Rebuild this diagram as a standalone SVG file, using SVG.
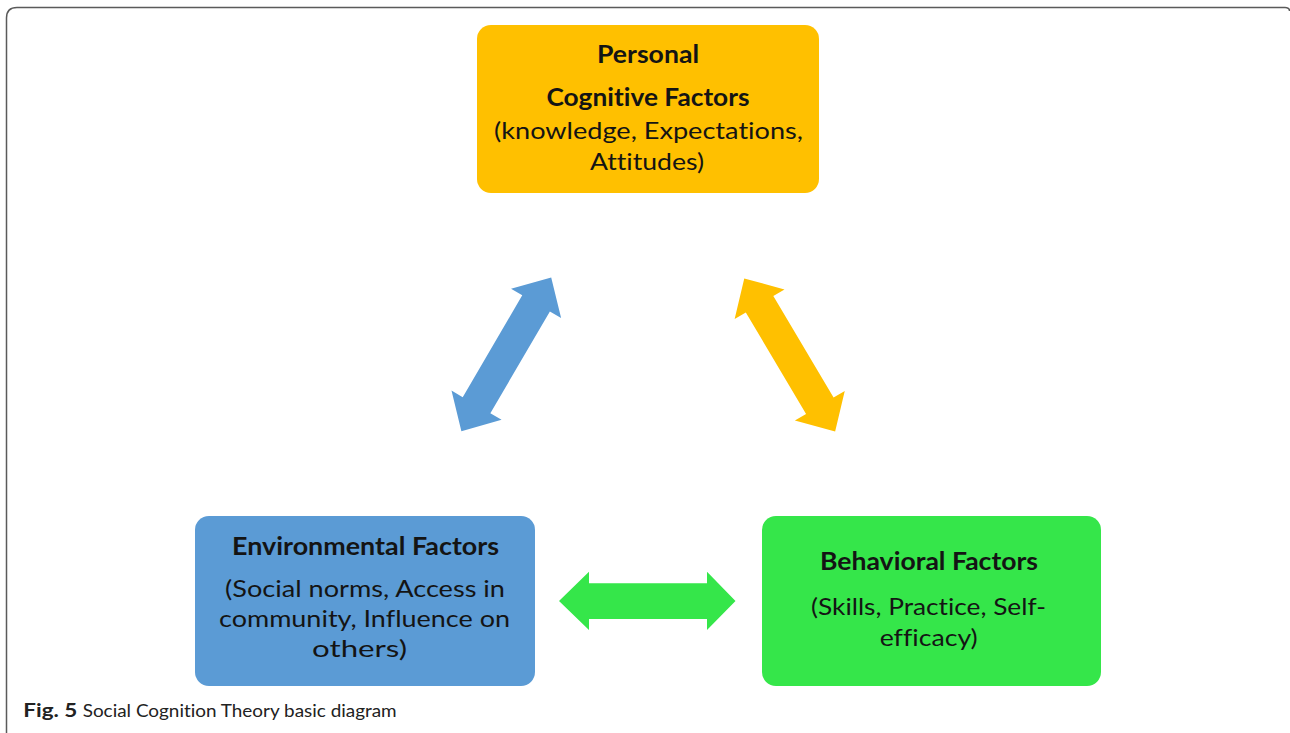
<svg xmlns="http://www.w3.org/2000/svg" width="1290" height="733" viewBox="0 0 1290 733">
<style>
.box-text{font-family:Lato,"Liberation Sans",sans-serif;font-size:24px;fill:#141414;text-anchor:middle;font-variant-ligatures:none}
.b{font-weight:bold}
.cap{font-family:Lato,"Liberation Sans",sans-serif;font-size:18px;fill:#222;font-variant-ligatures:none}
</style>
<defs>
<path id="darrow" d="M -89,0 L -59,-29 L -59,-16 L 59,-16 L 59,-29 L 89,0 L 59,29 L 59,16 L -59,16 L -59,29 Z"/>
</defs>
<rect x="0" y="0" width="1290" height="733" fill="#ffffff"/>
<path d="M6.5,733 V18 Q6.5,7.5 17,7.5 H1285 Q1289.5,7.5 1289.5,11" fill="none" stroke="#5a5a5a" stroke-width="1.5"/>
<g id="connectors">
<use href="#darrow" fill="#5B9BD5" transform="translate(506.3,354.3) rotate(-59.7)"/>
<use href="#darrow" fill="#FFC000" transform="translate(789.7,355) rotate(59.3)"/>
<path fill="#35E64A" d="M559,601 L589,571.7 L589,583.3 L707,583.3 L707,571.7 L735.5,601 L707,630 L707,619 L589,619 L589,630 Z"/>
</g>
<g id="node-personal">
<rect x="477" y="25" width="342" height="168" rx="14" fill="#FFC000"/>
<text class="box-text b" x="648" y="62.5" textLength="102" lengthAdjust="spacingAndGlyphs">Personal</text>
<text class="box-text b" x="648" y="106" textLength="203" lengthAdjust="spacingAndGlyphs">Cognitive Factors</text>
<text class="box-text" x="648.5" y="139" textLength="309" lengthAdjust="spacingAndGlyphs">(knowledge, Expectations,</text>
<text class="box-text" x="647" y="170" textLength="114" lengthAdjust="spacingAndGlyphs">Attitudes)</text>
</g>
<g id="node-environmental">
<rect x="195" y="516" width="340" height="170" rx="14" fill="#5B9BD5"/>
<text class="box-text b" x="365.5" y="555" textLength="267" lengthAdjust="spacingAndGlyphs">Environmental Factors</text>
<text class="box-text" x="365" y="597" textLength="280" lengthAdjust="spacingAndGlyphs">(Social norms, Access in</text>
<text class="box-text" x="364.5" y="627" textLength="291" lengthAdjust="spacingAndGlyphs">community, Influence on</text>
<text class="box-text" x="359.5" y="657" textLength="95" lengthAdjust="spacingAndGlyphs">others)</text>
</g>
<g id="node-behavioral">
<rect x="762" y="516" width="339" height="170" rx="14" fill="#35E64A"/>
<text class="box-text b" x="929" y="570" textLength="218" lengthAdjust="spacingAndGlyphs">Behavioral Factors</text>
<text class="box-text" x="928.5" y="615" textLength="235" lengthAdjust="spacingAndGlyphs">(Skills, Practice, Self-</text>
<text class="box-text" x="928.7" y="645.5" textLength="98" lengthAdjust="spacingAndGlyphs">efficacy)</text>
</g>
<g id="caption">
<text class="cap b" x="23.3" y="716.5" textLength="54" lengthAdjust="spacingAndGlyphs">Fig. 5</text>
<text class="cap" x="82.7" y="716.5" textLength="314" lengthAdjust="spacingAndGlyphs">Social Cognition Theory basic diagram</text>
</g>
</svg>
